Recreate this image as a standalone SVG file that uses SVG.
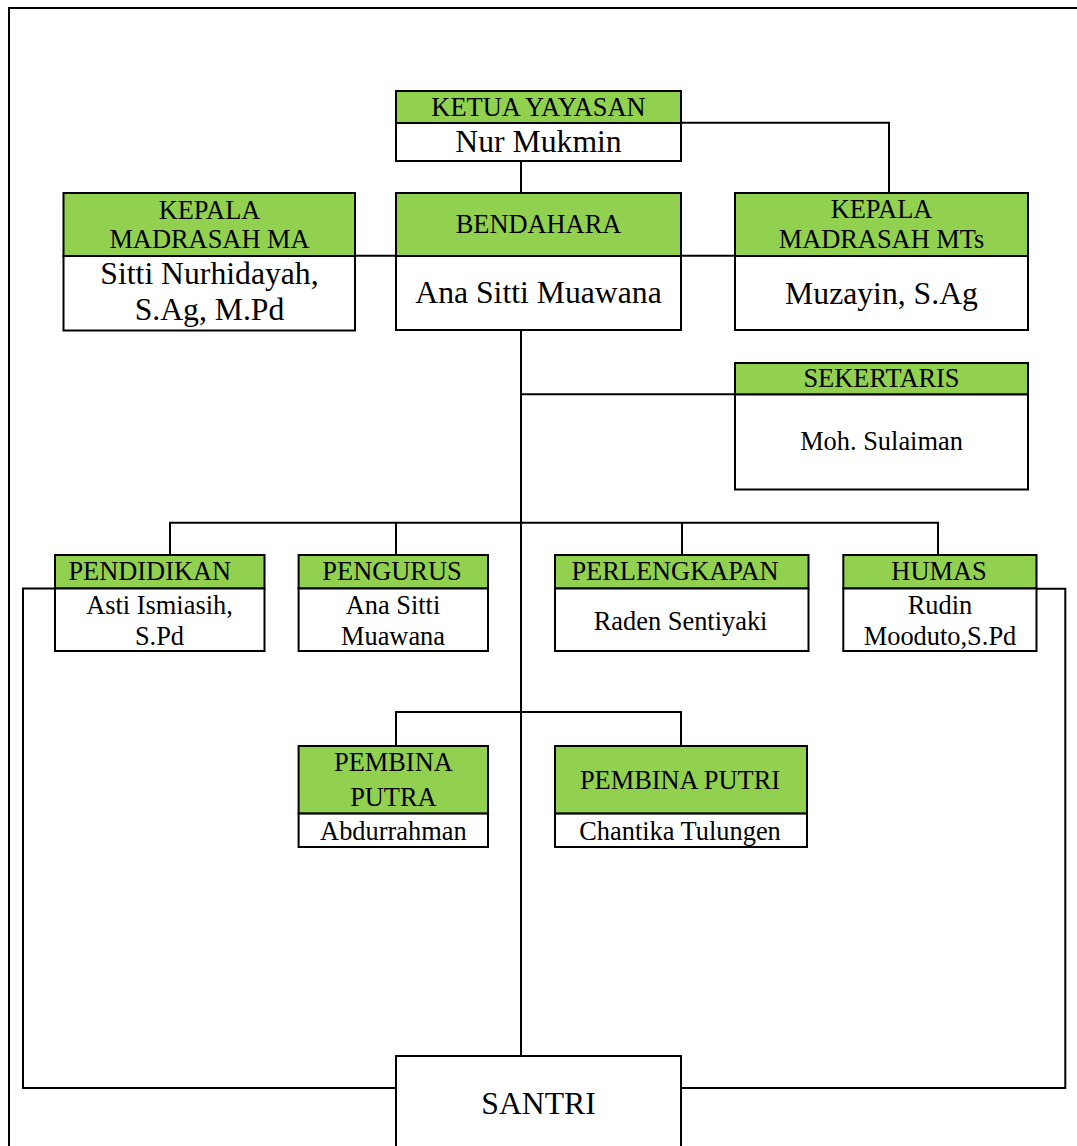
<svg xmlns="http://www.w3.org/2000/svg" width="1077" height="1146" viewBox="0 0 1077 1146">
<style>
.h{fill:#92D050;stroke:#000;stroke-width:2}
.b{fill:#fff;stroke:#000;stroke-width:2}
.c{fill:none;stroke:#000;stroke-width:2}
text{font-family:"Liberation Serif","Times New Roman",serif;fill:#000;text-anchor:middle}
.t{font-size:26.4px}
.n{font-size:31.7px}
</style>
<rect width="1077" height="1146" fill="#fff"/>
<path class="c" d="M9,1146 V8 H1077" stroke-width="2.3"/>
<g id="connectors">
<path class="c" d="M521,161 V193"/>
<path class="c" d="M681,122.7 H889 V193"/>
<path class="c" d="M355,255.7 H396"/>
<path class="c" d="M681,255.7 H735"/>
<path class="c" d="M521,330 V1056"/>
<path class="c" d="M521,394.3 H735"/>
<path class="c" d="M170,555 V522.7 H938 V555 M396,522.7 V555 M682,522.7 V555"/>
<path class="c" d="M55,588.5 H23 V1088 H396"/>
<path class="c" d="M1036.5,588.8 H1065.3 V1088 H681"/>
<path class="c" d="M396,746 V712 H681 V746"/>
</g>
<g id="ketua">
<rect class="h" x="396" y="91" width="285" height="32"/>
<rect class="b" x="396" y="123" width="285" height="38"/>
<text class="t" x="538.5" y="116">KETUA YAYASAN</text>
<text class="n" x="538.5" y="151.7">Nur Mukmin</text>
</g>
<g id="kepala-ma">
<rect class="h" x="63.5" y="193" width="291.5" height="63"/>
<rect class="b" x="63.5" y="256" width="291.5" height="74.5"/>
<text class="t" x="209.5" y="219.3">KEPALA</text>
<text class="t" x="209.5" y="247.7">MADRASAH MA</text>
<text class="n" x="209.5" y="284">Sitti Nurhidayah,</text>
<text class="n" x="209.5" y="320">S.Ag, M.Pd</text>
</g>
<g id="bendahara">
<rect class="h" x="396" y="193" width="285" height="63"/>
<rect class="b" x="396" y="256" width="285" height="74"/>
<text class="t" x="538.5" y="232.7">BENDAHARA</text>
<text class="n" x="538.5" y="302.7">Ana Sitti Muawana</text>
</g>
<g id="kepala-mts">
<rect class="h" x="735" y="193" width="293" height="63"/>
<rect class="b" x="735" y="256" width="293" height="74"/>
<text class="t" x="881.5" y="217.7">KEPALA</text>
<text class="t" x="881.5" y="247.7">MADRASAH MTs</text>
<text class="n" x="881.5" y="304">Muzayin, S.Ag</text>
</g>
<g id="sekertaris">
<rect class="h" x="735" y="363" width="293" height="31.5"/>
<rect class="b" x="735" y="394.5" width="293" height="95"/>
<text class="t" x="881.5" y="387.3">SEKERTARIS</text>
<text class="t" x="881.5" y="450">Moh. Sulaiman</text>
</g>
<g id="pendidikan">
<rect class="h" x="55" y="555" width="209.5" height="33.5"/>
<rect class="b" x="55" y="588.5" width="209.5" height="62.5"/>
<text class="t" x="149.8" y="579.9">PENDIDIKAN</text>
<text class="t" x="159.5" y="613.6">Asti Ismiasih,</text>
<text class="t" x="159.5" y="644.6">S.Pd</text>
</g>
<g id="pengurus">
<rect class="h" x="298.6" y="555" width="189.4" height="33.5"/>
<rect class="b" x="298.6" y="588.5" width="189.4" height="62.5"/>
<text class="t" x="392" y="579.9">PENGURUS</text>
<text class="t" x="393" y="613.6">Ana Sitti</text>
<text class="t" x="393" y="644.6">Muawana</text>
</g>
<g id="perlengkapan">
<rect class="h" x="555" y="555" width="253.5" height="33.5"/>
<rect class="b" x="555" y="588.5" width="253.5" height="62.5"/>
<text class="t" x="675" y="579.9">PERLENGKAPAN</text>
<text class="t" x="680.6" y="630.1">Raden Sentiyaki</text>
</g>
<g id="humas">
<rect class="h" x="843.3" y="555" width="193.2" height="33.5"/>
<rect class="b" x="843.3" y="588.5" width="193.2" height="62.5"/>
<text class="t" x="939" y="579.9">HUMAS</text>
<text class="t" x="940" y="613.6">Rudin</text>
<text class="t" x="940" y="644.6">Mooduto,S.Pd</text>
</g>
<g id="pembina-putra">
<rect class="h" x="298.6" y="746" width="189.4" height="67.6"/>
<rect class="b" x="298.6" y="813.6" width="189.4" height="33.4"/>
<text class="t" x="393.4" y="771.4">PEMBINA</text>
<text class="t" x="393.4" y="806.4">PUTRA</text>
<text class="t" x="393.4" y="840">Abdurrahman</text>
</g>
<g id="pembina-putri">
<rect class="h" x="555" y="746" width="252" height="67.6"/>
<rect class="b" x="555" y="813.6" width="252" height="33.4"/>
<text class="t" x="680" y="789.3">PEMBINA PUTRI</text>
<text class="t" x="680" y="840">Chantika Tulungen</text>
</g>
<g id="santri">
<rect class="b" x="396" y="1056" width="285" height="100"/>
<text class="n" x="538.5" y="1114">SANTRI</text>
</g>
</svg>
